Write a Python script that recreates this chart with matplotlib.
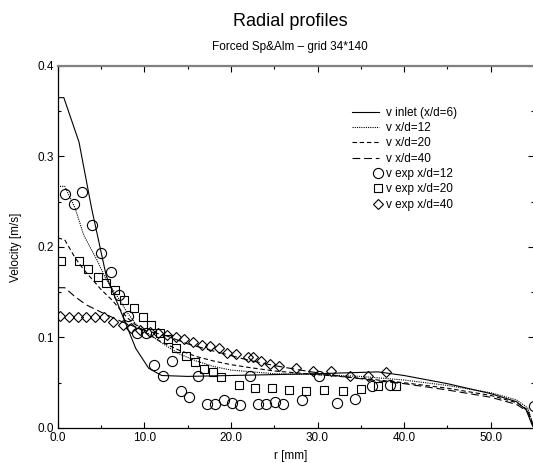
import matplotlib
matplotlib.use('Agg')
import matplotlib.pyplot as plt
import numpy as np
from matplotlib.legend_handler import HandlerLine2D
from matplotlib.ticker import MultipleLocator, FormatStrFormatter

plt.rcParams['font.family'] = ['Liberation Sans', 'DejaVu Sans']

# simulated profiles (r in mm, v in m/s)
r_inlet = [0, 0.7, 2.45, 3.9, 5.6, 6.8, 8.0, 9.0, 10.5, 12, 15, 20, 25, 30, 37, 40, 45, 50, 53, 54.1, 54.8, 55]
v_inlet = [0.365, 0.365, 0.316, 0.243, 0.168, 0.140, 0.112, 0.088, 0.066, 0.058, 0.057, 0.058, 0.059, 0.060, 0.062, 0.058, 0.049, 0.038, 0.029, 0.020, 0.003, 0.0]

r_12 = [0, 0.8, 2, 3, 4.5, 5.6, 6.7, 8, 9, 10.5, 12, 14, 16, 18, 20, 25, 30, 35, 40, 45, 50, 53, 54.3, 55]
v_12 = [0.267, 0.267, 0.243, 0.213, 0.186, 0.164, 0.148, 0.128, 0.115, 0.104, 0.094, 0.082, 0.074, 0.068, 0.064, 0.060, 0.059, 0.057, 0.053, 0.047, 0.039, 0.031, 0.022, 0.0]

r_20 = [0, 0.8, 2, 3, 4, 5, 6.3, 8, 10, 12, 14, 16, 18, 20, 22, 25, 30, 35, 40, 45, 50, 53, 54.3, 55]
v_20 = [0.21, 0.208, 0.188, 0.175, 0.164, 0.153, 0.141, 0.122, 0.106, 0.095, 0.086, 0.079, 0.074, 0.070, 0.067, 0.063, 0.059, 0.055, 0.050, 0.044, 0.036, 0.028, 0.020, 0.0]

r_40 = [0, 0.8, 2, 3.3, 5, 7.5, 10, 12.5, 15, 18, 20, 22, 25, 28, 32, 37, 40, 45, 50, 53, 54.3, 55]
v_40 = [0.155, 0.155, 0.145, 0.136, 0.128, 0.117, 0.108, 0.102, 0.093, 0.085, 0.080, 0.075, 0.069, 0.064, 0.058, 0.052, 0.049, 0.042, 0.034, 0.026, 0.018, 0.0]

# experimental points
r_exp12 = [0.8, 1.85, 2.85, 3.9, 5.0, 6.1, 7.1, 8.1, 9.2, 10.2, 11.1, 12.1, 13.2, 14.2, 15.1, 16.2, 17.2, 18.2,
           19.2, 20.1, 21.1, 22.2, 23.1, 24.1, 25.1, 26.0, 28.2, 30.2, 32.2, 34.3, 36.3, 38.4, 55]
v_exp12 = [0.259, 0.248, 0.261, 0.224, 0.193, 0.172, 0.147, 0.124, 0.105, 0.105, 0.070, 0.057, 0.074, 0.041, 0.034, 0.058, 0.027, 0.027,
           0.031, 0.028, 0.025, 0.057, 0.026, 0.026, 0.029, 0.026, 0.031, 0.057, 0.028, 0.032, 0.046, 0.048, 0.024]

r_exp20 = [0.4, 2.4, 3.5, 4.6, 5.6, 6.6, 7.7, 8.8, 9.8, 10.8, 11.8, 12.7, 13.7, 14.8, 15.8, 16.9, 17.9, 18.8,
           20.9, 22.8, 24.8, 26.7, 28.7, 30.7, 32.9, 35.0, 37.0, 39.1]
v_exp20 = [0.185, 0.184, 0.176, 0.167, 0.160, 0.152, 0.141, 0.133, 0.123, 0.114, 0.105, 0.098, 0.088, 0.079, 0.073, 0.065, 0.062, 0.056,
           0.048, 0.044, 0.044, 0.042, 0.041, 0.042, 0.041, 0.043, 0.046, 0.046]

r_exp40 = [0.25, 1.3, 2.3, 3.3, 4.3, 5.3, 6.4, 7.5, 8.5, 9.5, 10.6, 11.6, 12.6, 13.6, 14.6, 15.6, 16.7, 17.6, 18.6,
           19.6, 20.6, 22.0, 22.6, 23.5, 24.5, 25.5, 27.5, 29.5, 31.6, 33.8, 35.8, 37.9]
v_exp40 = [0.124, 0.123, 0.123, 0.123, 0.123, 0.123, 0.117, 0.114, 0.110, 0.108, 0.106, 0.105, 0.103, 0.101, 0.098, 0.095, 0.092, 0.091, 0.088,
           0.083, 0.082, 0.078, 0.078, 0.074, 0.071, 0.069, 0.066, 0.063, 0.063, 0.058, 0.057, 0.062]


class RightMarker(HandlerLine2D):
    # put the marker at the right end of the handle, like the original legend
    def get_xdata(self, legend, xdescent, ydescent, width, height, fontsize):
        xm = np.array([-xdescent + width - 0.1 * fontsize])
        return xm, xm


fig = plt.figure(figsize=(5.33, 4.63), dpi=100)
ax = fig.add_axes([0.1084, 0.0756, 0.8934, 0.7819])

lw = 0.8
ax.plot(r_inlet, v_inlet, color='black', lw=lw, label='v inlet (x/d=6)')
ax.plot(r_12, v_12, color='black', lw=lw, dashes=(1, 1), label='v x/d=12')
ax.plot(r_20, v_20, color='black', lw=lw, dashes=(4, 2.5), label='v x/d=20')
ax.plot(r_40, v_40, color='black', lw=lw, dashes=(7, 3.5), label='v x/d=40')
m1, = ax.plot(r_exp12, v_exp12, 'o', ms=7.3, mfc='none', mec='black', mew=0.8, label='v exp x/d=12', clip_on=False)
m2, = ax.plot(r_exp20, v_exp20, 's', ms=6.3, mfc='none', mec='black', mew=0.8, label='v exp x/d=20')
m3, = ax.plot(r_exp40, v_exp40, 'D', ms=5.3, mfc='none', mec='black', mew=0.8, label='v exp x/d=40')

ax.set_xlim(0, 55)
ax.set_ylim(0, 0.4)

ax.xaxis.set_major_locator(MultipleLocator(10))
ax.xaxis.set_minor_locator(MultipleLocator(5))
ax.yaxis.set_major_locator(MultipleLocator(0.1))
ax.yaxis.set_minor_locator(MultipleLocator(0.05))
ax.xaxis.set_major_formatter(FormatStrFormatter('%.1f'))
ax.yaxis.set_major_formatter(FormatStrFormatter('%.1f'))
ax.tick_params(which='both', direction='in', top=True, right=True, labelsize=8.5, width=0.8)
ax.tick_params(which='major', length=4, pad=3)
ax.tick_params(which='minor', length=2.5)

for s in ['left', 'bottom']:
    ax.spines[s].set_linewidth(0.9)
ax.spines['top'].set_color('#808080')
ax.spines['top'].set_linewidth(1.6)
ax.spines['right'].set_linewidth(0.9)

ax.set_xlabel('r [mm]', fontsize=8.5, labelpad=6)
ax.set_ylabel('Velocity [m/s]', fontsize=8.5, labelpad=11)
ax.xaxis.set_label_coords(0.49, -0.06)

fig.text(290 / 533, 1 - 22 / 463, 'Radial profiles', ha='center', va='center', fontsize=13)
fig.text(290 / 533, 1 - 47 / 463, 'Forced Sp&Alm \u2013 grid 34*140', ha='center', va='center', fontsize=8.5)

ax.legend(loc='upper left', bbox_to_anchor=(0.618, 0.887), frameon=False, fontsize=8.5,
          handlelength=2.3, handletextpad=0.6, labelspacing=0.28, borderpad=0, borderaxespad=0,
          handler_map={m1: RightMarker(), m2: RightMarker(), m3: RightMarker()})

fig.savefig('out.png', dpi=100)
